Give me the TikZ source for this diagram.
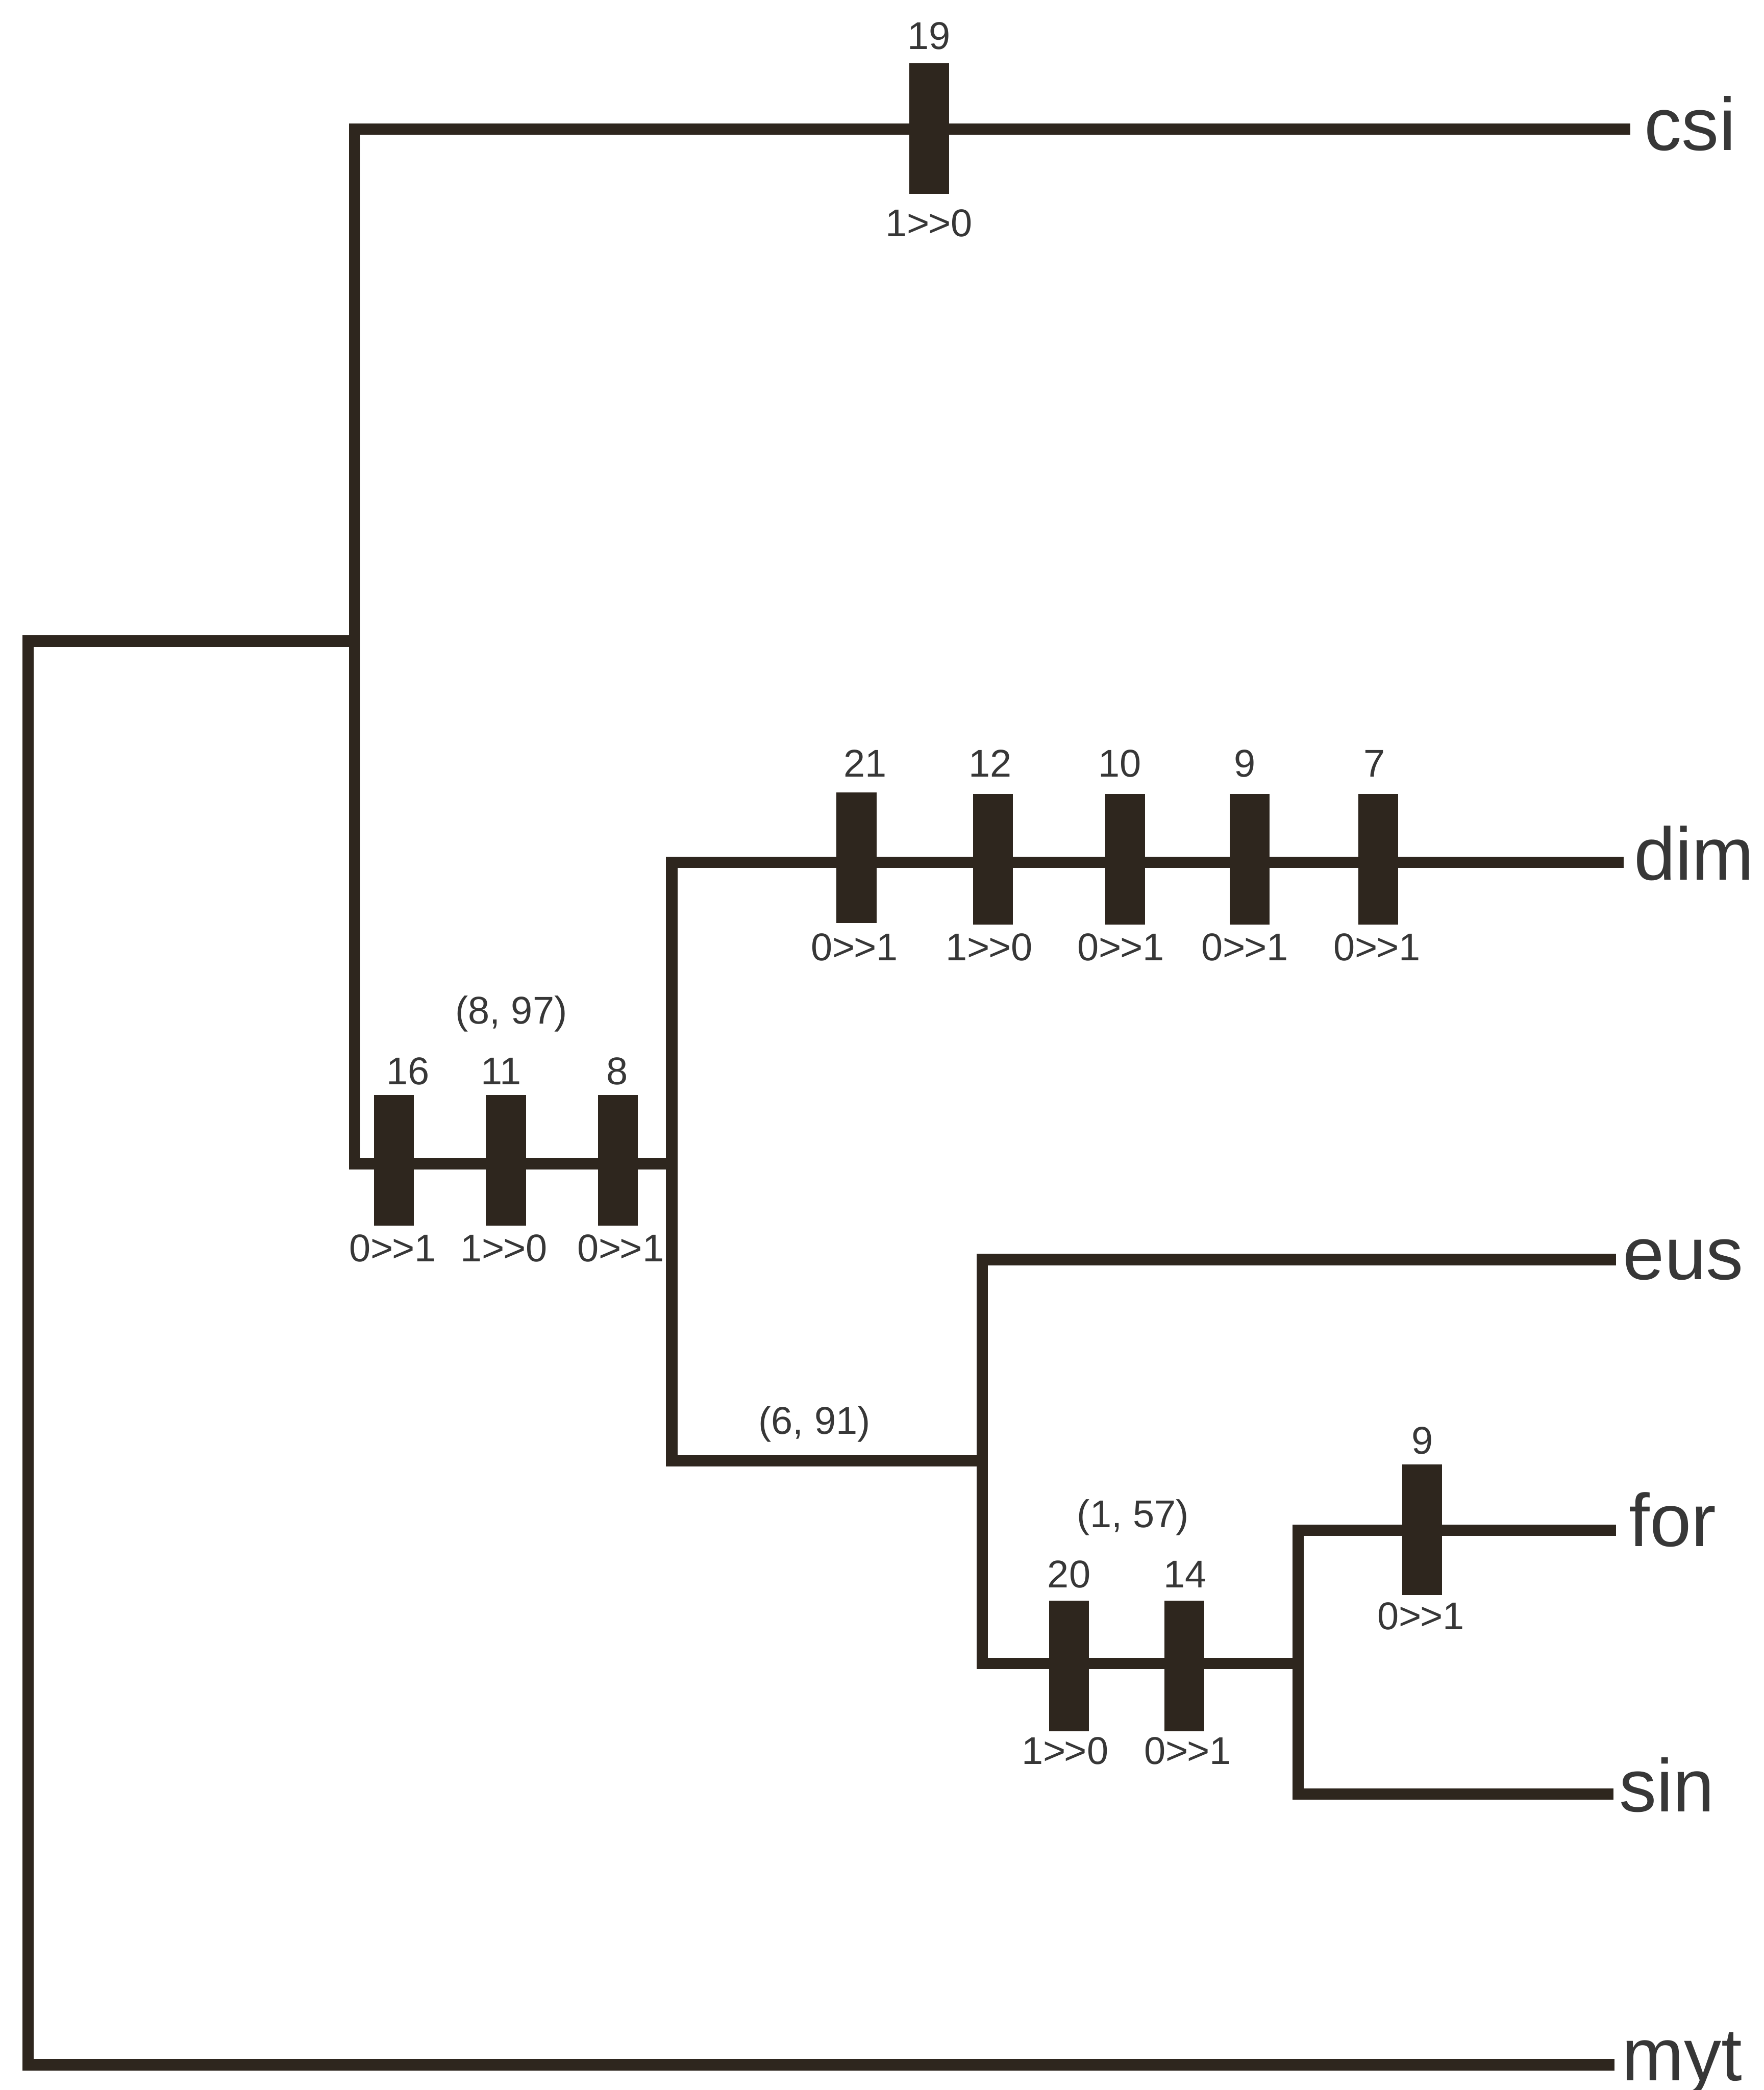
\documentclass[tikz,border=0pt]{standalone}
\usepackage{fontspec}
\setmainfont{Liberation Sans}
\definecolor{ink}{RGB}{46,38,30}
\definecolor{txt}{RGB}{55,55,55}
\newcommand{\chgstate}[2]{#1>\kern-1pt>\kern0pt#2}
\tikzset{
  br/.style={draw=ink, line width=8.5pt, line cap=rect, line join=miter},
  mk/.style={fill=ink, draw=none, minimum width=30pt, minimum height=98pt, inner sep=0pt},
  num/.style={text=txt, font=\fontsize{29}{29}\selectfont, inner sep=0pt},
  leaf/.style={text=txt, font=\fontsize{56}{56}\selectfont, inner sep=0pt, anchor=base west},
}
\begin{document}
\begin{tikzpicture}[x=1pt,y=-1pt]
\useasboundingbox (0,0) rectangle (1323,1568);
\fill[white] (0,0) rectangle (1323,1568);

% internal nodes (junctions on the parent bar)
\coordinate (R) at (21,481);
\coordinate (A) at (266,481);
\coordinate (B) at (504,873);
\coordinate (C) at (737,1096);
\coordinate (D) at (974,1248);
% leaf ends
\coordinate (csiE) at (1219,97);
\coordinate (dimE) at (1214,647);
\coordinate (eusE) at (1208,945);
\coordinate (forE) at (1208,1148);
\coordinate (sinE) at (1206,1346);
\coordinate (mytE) at (1207,1549);

% leaf labels
\node[leaf] (csi) at (1233.5,112.7) {csi};
\node[leaf] (dim) at (1225.6,660) {dim};
\node[leaf] (eus) at (1217.5,960) {eus};
\node[leaf] (for) at (1222,1160) {for};
\node[leaf] (sin) at (1214.5,1359) {sin};
\node[leaf] (myt) at (1216.5,1561) {myt};

% branches
\draw[br] (R) -- (A);
\draw[br] (R) |- (mytE);
\draw[br] (A) |- (csiE);
\draw[br] (A) |- (B);
\draw[br] (B) |- (dimE);
\draw[br] (B) |- (C);
\draw[br] (C) |- (eusE);
\draw[br] (C) |- (D);
\draw[br] (D) |- (forE);
\draw[br] (D) |- (sinE);

% character-change marks
\node[mk] (m19) at (697,96.5) {};
\node[mk] (m16) at (295.5,870.5) {};
\node[mk] (m11) at (379.6,870.5) {};
\node[mk] (m8) at (463.5,870.5) {};
\node[mk] (m21) at (642.6,643.5) {};
\node[mk] (m12) at (745,644.5) {};
\node[mk] (m10) at (844,644.5) {};
\node[mk] (m9d) at (937.5,644.5) {};
\node[mk] (m7) at (1034,644.5) {};
\node[mk] (m20) at (802,1250) {};
\node[mk] (m14) at (888.5,1250) {};
\node[mk] (m9f) at (1067,1147.5) {};

% labels above marks
\node[num, anchor=base] (t19) at (697,37) {19};
\node[num, anchor=base] (t16) at (306,813.5) {16};
\node[num, anchor=base] (t11) at (376,813.5) {11};
\node[num, anchor=base] (t8) at (463,813.5) {8};
\node[num, anchor=base] (t21) at (649,583) {21};
\node[num, anchor=base] (t12) at (743,583) {12};
\node[num, anchor=base] (t10) at (840,583) {10};
\node[num, anchor=base] (t9d) at (934,583) {9};
\node[num, anchor=base] (t7) at (1031,583) {7};
\node[num, anchor=base] (t20) at (802,1191) {20};
\node[num, anchor=base] (t14) at (889,1191) {14};
\node[num, anchor=base] (t9f) at (1067,1091) {9};

% labels below marks
\node[num, anchor=north] (b19) at (697,157) {\chgstate{1}{0}};
\node[num, anchor=north] (b16) at (294.5,926) {\chgstate{0}{1}};
\node[num, anchor=north] (b11) at (378,926) {\chgstate{1}{0}};
\node[num, anchor=north] (b8) at (465.6,926) {\chgstate{0}{1}};
\node[num, anchor=north] (b21) at (641,700) {\chgstate{0}{1}};
\node[num, anchor=north] (b12) at (742,700) {\chgstate{1}{0}};
\node[num, anchor=north] (b10) at (841,700) {\chgstate{0}{1}};
\node[num, anchor=north] (b9d) at (934,700) {\chgstate{0}{1}};
\node[num, anchor=north] (b7) at (1033,700) {\chgstate{0}{1}};
\node[num, anchor=north] (b20) at (799,1303) {\chgstate{1}{0}};
\node[num, anchor=north] (b14) at (891,1303) {\chgstate{0}{1}};
\node[num, anchor=north] (b9f) at (1066,1202) {\chgstate{0}{1}};

% branch support labels
\node[num, anchor=base] (sB) at (383.6,768) {(8, 97)};
\node[num, anchor=base] (sC) at (611,1076) {(6, 91)};
\node[num, anchor=base] (sD) at (850,1146) {(1, 57)};
\end{tikzpicture}
\end{document}
